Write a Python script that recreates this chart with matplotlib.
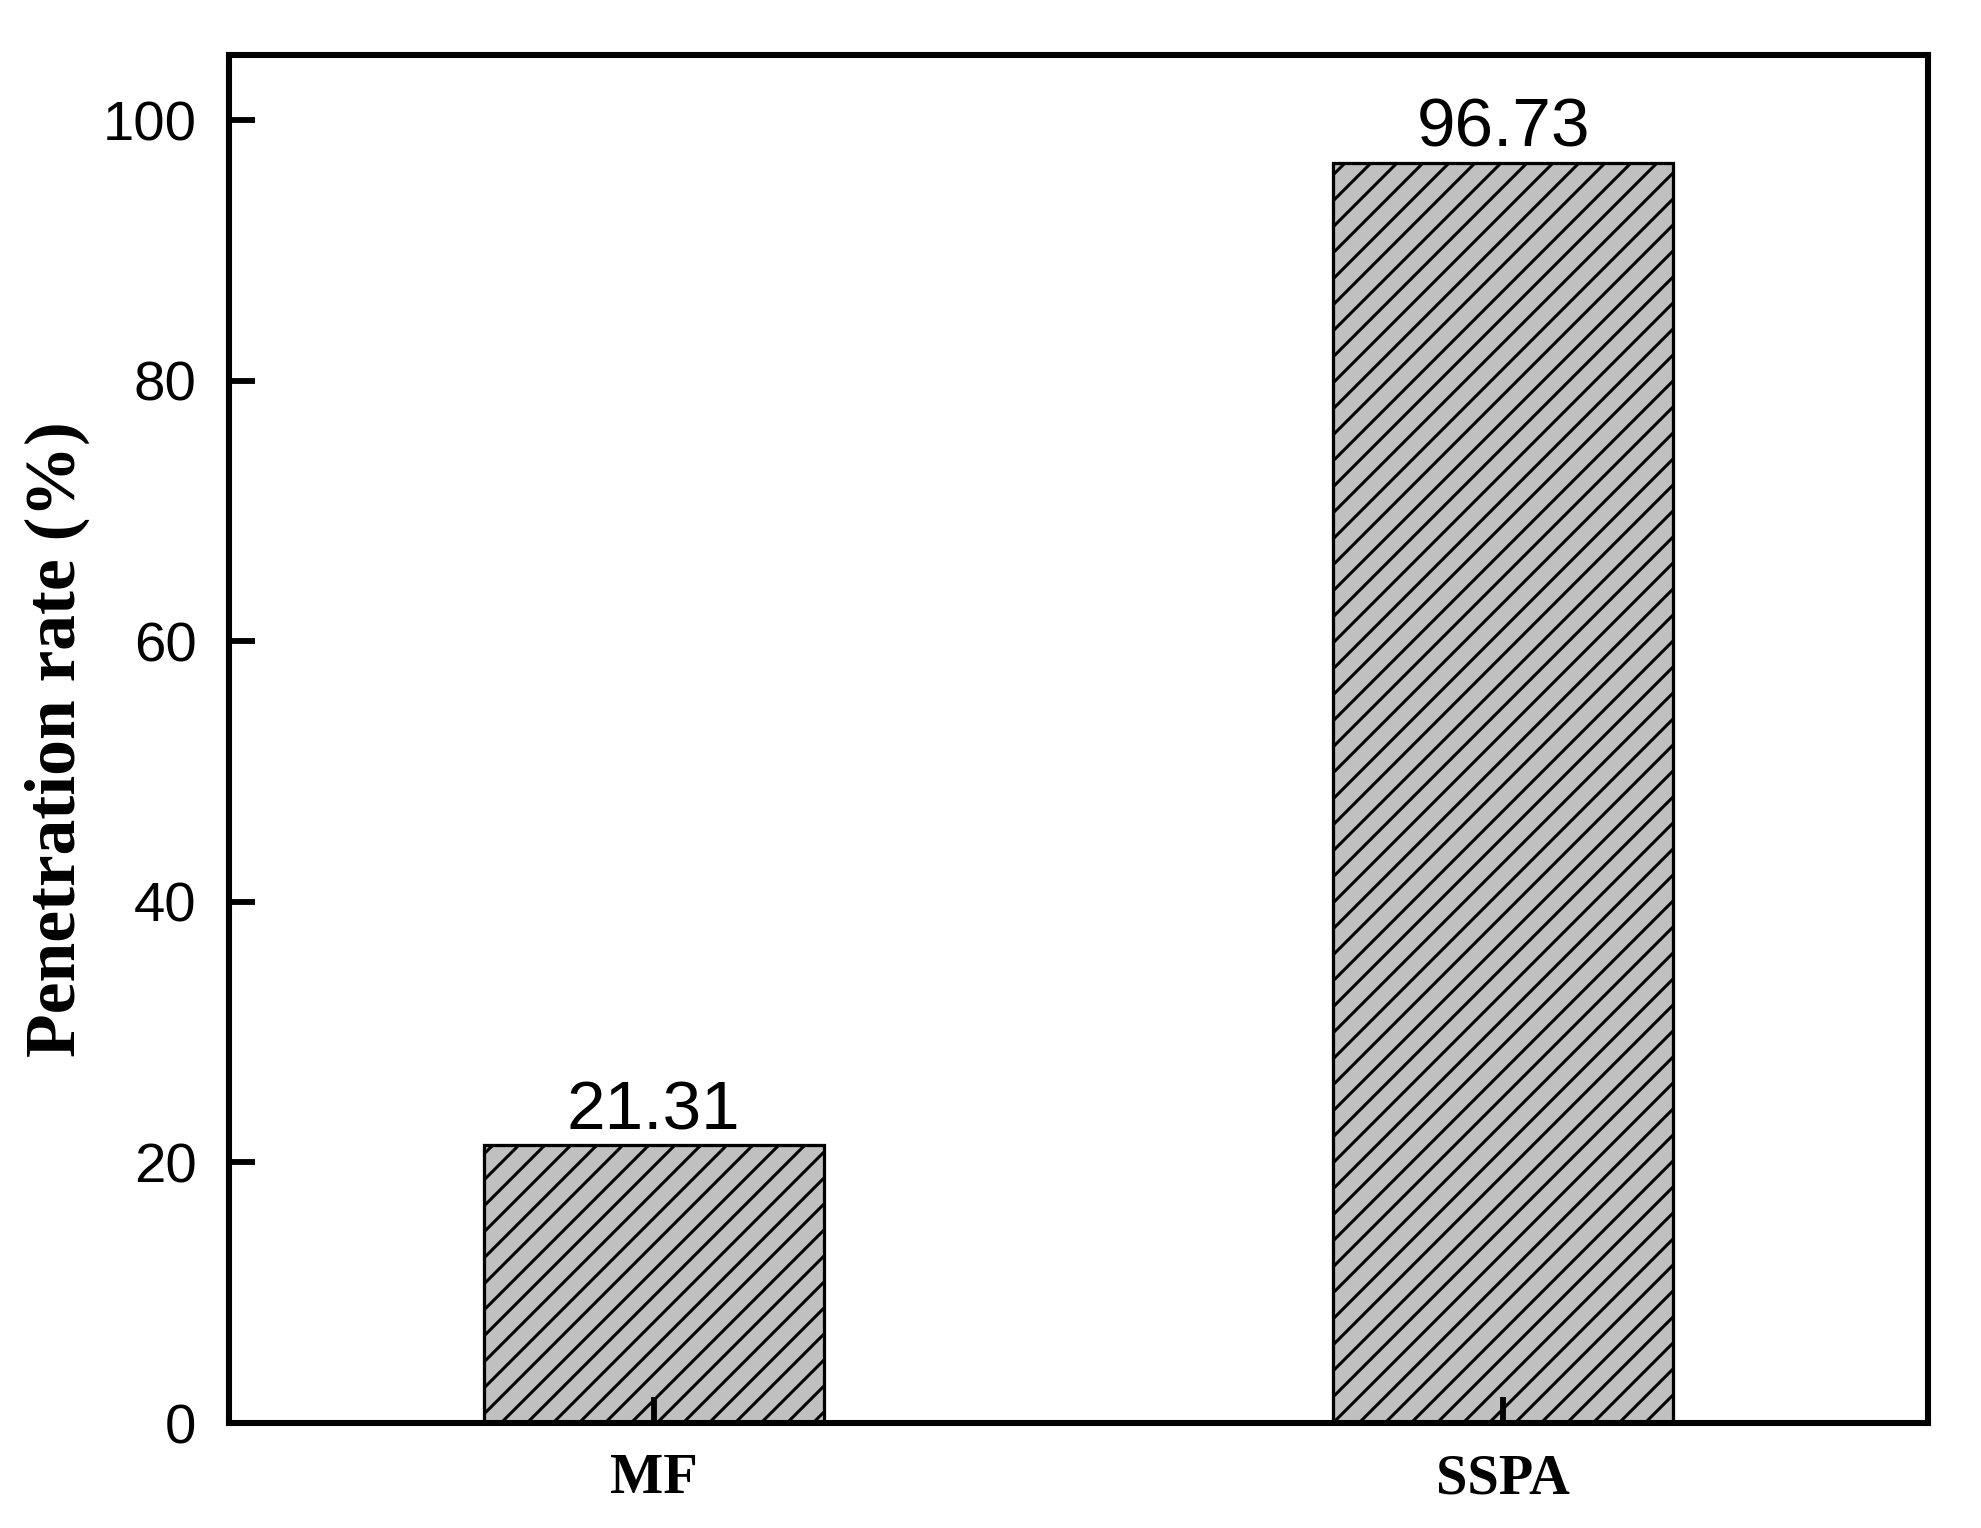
# Dependencies
import matplotlib
matplotlib.use("Agg")
import matplotlib.pyplot as plt

# Data
categories = ["MF", "SSPA"]
rates = [21.31, 96.73]
value_labels = ["21.31", "96.73"]
y_ticks = [0, 20, 40, 60, 80, 100]

plt.rcParams['hatch.linewidth'] = 1.4

dpi = 156
fig = plt.figure(figsize=(1981 / dpi, 1528 / dpi), dpi=dpi)
ax = fig.add_axes([0.1156, 0.0687, 0.8576, 0.8953])

x_pos = [1, 2]
bars = ax.bar(x_pos, rates, width=0.4, color="#c0c0c0", edgecolor="black",
              linewidth=1.5, hatch="//")

# Value labels above the bars
ax.bar_label(bars, labels=value_labels, padding=1, fontsize=32,
             family="Liberation Sans")

ax.set_xlim(0.5, 2.5)
ax.set_ylim(0, 105)
ax.set_xticks(x_pos)
ax.set_xticklabels(categories, family="Liberation Serif", fontweight="bold",
                   fontsize=26)
ax.set_yticks(y_ticks)
ax.set_yticklabels([str(t) for t in y_ticks], family="Liberation Sans",
                   fontsize=26)

ax.tick_params(axis="both", direction="in", length=12, width=2.7)
ax.tick_params(axis="y", pad=15)
ax.tick_params(axis="x", pad=14)

for spine in ax.spines.values():
    spine.set_linewidth(2.8)

ax.set_ylabel("Penetration rate (%)", family="Liberation Serif",
              fontweight="bold", fontsize=33, labelpad=6)

fig.savefig("out.png", dpi=dpi)
